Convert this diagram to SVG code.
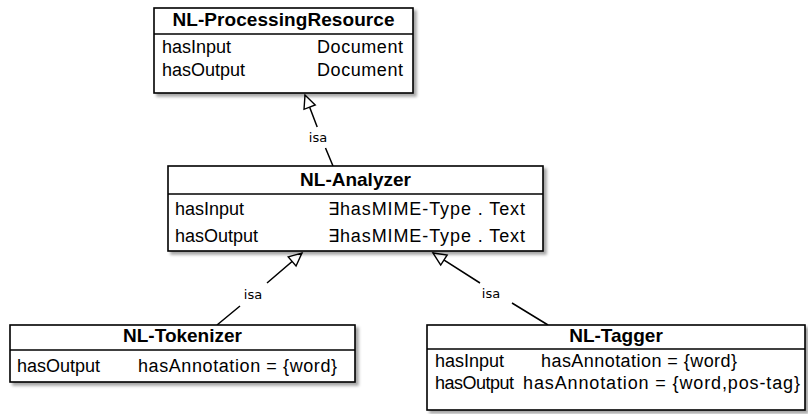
<svg xmlns="http://www.w3.org/2000/svg" width="808" height="414" viewBox="0 0 808 414">
<defs>
<filter id="sh" x="-5%" y="-5%" width="115%" height="125%">
<feDropShadow dx="3" dy="3" stdDeviation="1.5" flood-color="#000" flood-opacity="0.35"/>
</filter>
<marker id="tri" markerUnits="userSpaceOnUse" markerWidth="20" markerHeight="20" refX="14" refY="7" viewBox="0 0 20 14" orient="auto" overflow="visible">
<path d="M1,1 L14,7 L1,13 Z" fill="#fff" stroke="#000" stroke-width="1.4"/>
</marker>
</defs>
<style>
.box{fill:#fff;stroke:#000;stroke-width:1.6;filter:url(#sh)}
.sep{stroke:#000;stroke-width:1.3}
.t{font-family:"Liberation Sans",Arial,sans-serif;font-size:18px;fill:#000}
.ti{font-family:"Liberation Sans",Arial,sans-serif;font-size:19px;font-weight:bold;fill:#000;text-anchor:middle}
.lab{font-family:"DejaVu Sans","Liberation Sans",sans-serif;font-size:13px;fill:#000;text-anchor:middle}
.edge{fill:none;stroke:#000;stroke-width:1.5}
</style>
<g id="connectors">
<path class="edge" d="M333,166 L325.5,148 M317.2,127 L305,95" marker-end="url(#tri)"/>
<text class="lab" x="318" y="142">isa</text>
<path class="edge" d="M217,325 L240,306 M267,283 L302,253" marker-end="url(#tri)"/>
<text class="lab" x="253" y="299">isa</text>
<path class="edge" d="M548,325 L512,303 M480,283 L433,253" marker-end="url(#tri)"/>
<text class="lab" x="491" y="298">isa</text>
</g>
<g id="NL-ProcessingResource">
<rect class="box" x="154" y="8" width="259" height="85"/>
<line class="sep" x1="154" y1="34" x2="413" y2="34"/>
<text class="ti" x="283.5" y="26" textLength="222">NL-ProcessingResource</text>
<text class="t" x="162" y="53">hasInput</text>
<text class="t" x="403" y="53" text-anchor="end" textLength="86">Document</text>
<text class="t" x="162" y="76">hasOutput</text>
<text class="t" x="403" y="76" text-anchor="end" textLength="86">Document</text>
</g>
<g id="NL-Analyzer">
<rect class="box" x="168" y="166" width="375" height="85"/>
<line class="sep" x1="168" y1="194" x2="543" y2="194"/>
<text class="ti" x="355.5" y="186">NL-Analyzer</text>
<text class="t" x="175" y="215">hasInput</text>
<text class="t" x="328" y="215" textLength="197">∃hasMIME-Type . Text</text>
<text class="t" x="175" y="242">hasOutput</text>
<text class="t" x="328" y="242" textLength="197">∃hasMIME-Type . Text</text>
</g>
<g id="NL-Tokenizer">
<rect class="box" x="10" y="325" width="345" height="57"/>
<line class="sep" x1="10" y1="350" x2="355" y2="350"/>
<text class="ti" x="182.5" y="342">NL-Tokenizer</text>
<text class="t" x="17" y="372">hasOutput</text>
<text class="t" x="138" y="372" textLength="199">hasAnnotation = {word}</text>
</g>
<g id="NL-Tagger">
<rect class="box" x="427" y="325" width="378" height="85"/>
<line class="sep" x1="427" y1="349" x2="805" y2="349"/>
<text class="ti" x="616" y="342">NL-Tagger</text>
<text class="t" x="435" y="367">hasInput</text>
<text class="t" x="541" y="367" textLength="196">hasAnnotation = {word}</text>
<text class="t" x="435" y="389" textLength="79">hasOutput</text>
<text class="t" x="523" y="389" textLength="277">hasAnnotation = {word,pos-tag}</text>
</g>
</svg>
